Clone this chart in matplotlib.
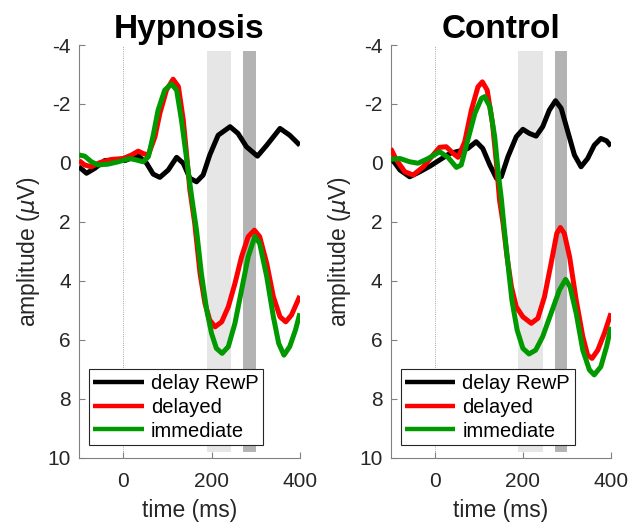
"""Hypnosis vs Control ERP waveforms (delay RewP, delayed, immediate)."""
import matplotlib
matplotlib.use('Agg')
import matplotlib.pyplot as plt

plt.rcParams.update({
    'font.family': ['Liberation Sans', 'DejaVu Sans'],
    'font.size': 15,
    'axes.linewidth': 0.8,
    'axes.unicode_minus': False,
})

# ── Data ──
# Hypnosis
hyp_rewp_t = [-100, -83, -64, -42, -19, 4, 23, 35, 53, 68, 83, 102, 121, 136, 151, 166,
              181, 196, 215, 242, 260, 279, 304, 325, 355, 377, 400]
hyp_rewp_v = [0.13, 0.35, 0.18, -0.08, -0.10, -0.08, -0.19, -0.23, 0.01, 0.38, 0.49,
              0.24, -0.19, 0.01, 0.52, 0.64, 0.41, -0.27, -0.94, -1.23, -1.0, -0.55,
              -0.23, -0.6, -1.17, -0.94, -0.6]

hyp_del_t = [-100, -87, -72, -53, -26, 0, 19, 34, 45, 57, 72, 83, 98, 113, 125, 136,
             143, 151, 162, 174, 185, 196, 208, 223, 238, 253, 268, 283, 297, 309, 325,
             340, 355, 368, 381, 400]
hyp_del_v = [-0.08, 0.07, 0.13, -0.01, -0.12, -0.15, -0.27, -0.40, -0.32, -0.27, -0.89,
             -1.68, -2.47, -2.84, -2.59, -1.46, -0.38, 0.92, 2.05, 3.75, 4.76, 5.33,
             5.56, 5.39, 4.88, 4.09, 3.18, 2.5, 2.28, 2.5, 3.41, 4.54, 5.22, 5.39, 5.16,
             4.51]

hyp_imm_t = [-100, -87, -72, -57, -34, -11, 15, 30, 45, 57, 68, 79, 94, 109, 121, 132,
             143, 155, 166, 177, 189, 200, 211, 224, 238, 253, 268, 283, 298, 309, 325,
             340, 352, 364, 377, 390, 400]
hyp_imm_v = [-0.27, -0.23, -0.04, 0.07, 0.04, -0.04, -0.15, -0.10, -0.04, -0.21, -0.94,
             -1.79, -2.47, -2.68, -2.47, -1.45, -0.21, 1.15, 2.28, 3.75, 4.99, 5.78, 6.29,
             6.46, 6.23, 5.44, 4.31, 3.18, 2.5, 2.73, 3.86, 5.22, 6.12, 6.52, 6.23, 5.67,
             5.1]

# Control
con_rewp_t = [-100, -79, -57, -34, -11, 11, 34, 57, 75, 94, 109, 125, 140, 151, 166,
              185, 200, 215, 230, 245, 260, 274, 287, 302, 317, 332, 347, 362, 377, 390,
              400]
con_rewp_v = [-0.19, 0.24, 0.47, 0.30, 0.11, -0.10, -0.32, -0.41, -0.49, -0.72, -0.49,
              0.07, 0.52, 0.47, -0.21, -0.89, -1.14, -1.0, -0.91, -1.23, -1.79, -2.11,
              -1.85, -1.06, -0.27, 0.13, -0.15, -0.6, -0.83, -0.75, -0.57]

con_del_t = [-100, -87, -68, -49, -26, -4, 11, 26, 42, 53, 68, 83, 98, 108, 119, 131,
             140, 147, 155, 164, 174, 185, 200, 219, 234, 249, 264, 277, 285, 294, 306,
             321, 336, 347, 357, 370, 385, 400]
con_del_v = [-0.49, -0.10, 0.30, 0.41, 0.13, -0.27, -0.53, -0.55, -0.32, -0.19, -0.72,
             -1.79, -2.58, -2.75, -2.47, -1.34, 0.02, 1.26, 2.05, 3.18, 4.2, 4.88, 5.22,
             5.44, 5.27, 4.54, 3.41, 2.39, 2.19, 2.39, 3.18, 4.65, 5.89, 6.52, 6.63, 6.35,
             5.78, 5.1]

con_imm_t = [-100, -79, -57, -38, -15, 11, 30, 49, 60, 75, 91, 106, 113, 125, 136, 145,
             151, 158, 166, 175, 187, 200, 214, 229, 245, 264, 283, 297, 307, 321, 336,
             351, 362, 377, 390, 400]
con_imm_v = [-0.12, -0.15, -0.04, 0.01, -0.15, -0.38, -0.19, 0.15, 0.07, -0.78, -1.68,
             -2.19, -2.25, -1.91, -0.89, 0.47, 1.2, 2.28, 3.41, 4.65, 5.67, 6.29, 6.48,
             6.35, 5.89, 5.1, 4.31, 3.95, 4.2, 5.1, 6.35, 7.02, 7.19, 6.91, 6.23, 5.56]

light_win = (190, 245)
dark_win = (272, 300)

panels = [
    ('Hypnosis', (hyp_rewp_t, hyp_rewp_v), (hyp_del_t, hyp_del_v), (hyp_imm_t, hyp_imm_v)),
    ('Control', (con_rewp_t, con_rewp_v), (con_del_t, con_del_v), (con_imm_t, con_imm_v)),
]

fig = plt.figure(figsize=(6.34, 5.26), dpi=100)
axes_rects = [[0.1246, 0.1298, 0.3484, 0.7846], [0.6163, 0.1298, 0.3474, 0.7846]]

for rect, (title, rewp, dly, imm) in zip(axes_rects, panels):
    ax = fig.add_axes(rect)
    ax.axvspan(*light_win, ymin=0.014, ymax=0.986, color='#e6e6e6', lw=0, zorder=0)
    ax.axvspan(*dark_win, ymin=0.014, ymax=0.986, color='#b3b3b3', lw=0, zorder=0)
    ax.axvline(0, color='#888888', lw=0.6, ls=':', zorder=1)

    style = dict(lw=3.6, solid_joinstyle='round', solid_capstyle='butt')
    ax.plot(*rewp, color='black', label='delay RewP', zorder=3, **style)
    ax.plot(*dly, color='#ff0000', label='delayed', zorder=4, **style)
    ax.plot(*imm, color='#009900', label='immediate', zorder=5, **style)

    ax.set_xlim(-100, 400)
    ax.set_ylim(10, -4)
    ax.set_xticks([0, 200, 400])
    ax.set_yticks([-4, -2, 0, 2, 4, 6, 8, 10])
    ax.set_xlabel('time (ms)', fontsize=16.5, color='#262626', labelpad=6)
    ax.set_ylabel(r'amplitude ($\mu$V)', fontsize=16.5, color='#262626', labelpad=4)
    ax.set_title(title, fontsize=24, fontweight='bold', pad=4)

    for side in ('top', 'right'):
        ax.spines[side].set_visible(False)
    for side in ('left', 'bottom'):
        ax.spines[side].set_color('#808080')
    ax.tick_params(direction='in', length=4, color='#808080', labelsize=15,
                   labelcolor='#262626')
    ax.tick_params(axis='x', pad=10)
    ax.tick_params(axis='y', pad=6)

    leg = ax.legend(loc='lower left', bbox_to_anchor=(0.045, 0.031), fontsize=14.5,
                    frameon=True, fancybox=False, edgecolor='#262626', framealpha=1,
                    handlelength=2.5, handletextpad=0.35, borderpad=0.22,
                    labelspacing=0.24, borderaxespad=0)
    leg.get_frame().set_linewidth(0.8)
    for h in leg.get_lines():
        h.set_linewidth(3.2)

fig.savefig('out.png', dpi=100)
